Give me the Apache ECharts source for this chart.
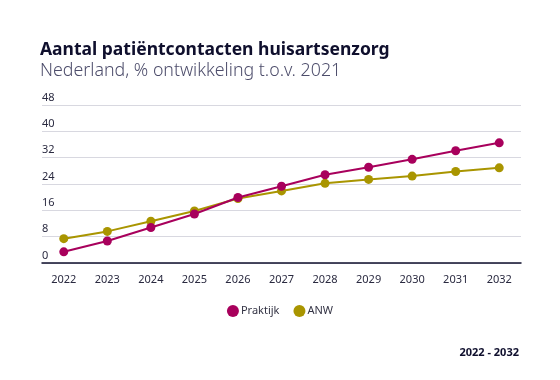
<!DOCTYPE html>
<html>
<head>
<meta charset="utf-8">
<script src="https://cdn.jsdelivr.net/npm/echarts@6/dist/echarts.min.js"></script>
<style>html,body{margin:0;padding:0;background:#fff;}#c{width:560px;height:380px;}</style>
</head>
<body>
<div id="c"></div>
<script>
const years = ['2022','2023','2024','2025','2026','2027','2028','2029','2030','2031','2032'];
const praktijk = [3.4, 6.7, 10.8, 14.9, 19.9, 23.3, 26.8, 29.1, 31.5, 34.1, 36.5];
const anw = [7.4, 9.6, 12.7, 15.8, 19.6, 21.9, 24.2, 25.4, 26.4, 27.8, 28.9];
const yTicks = { min: 0, max: 48, interval: 8 };

const font = '"Noto Sans", sans-serif';
const chart = echarts.init(document.getElementById('c'));
chart.setOption({
  backgroundColor: '#fff',
  textStyle: { fontFamily: font },
  title: [
    {
      text: 'Aantal patiëntcontacten huisartsenzorg',
      subtext: 'Nederland, % ontwikkeling t.o.v. 2021',
      left: 35, top: 36,
      itemGap: 3,
      textStyle: { fontFamily: font, fontSize: 17.5, fontWeight: 'bold', color: '#0f0f2d' },
      subtextStyle: { fontFamily: font, fontSize: 17.8, fontWeight: 300, color: '#4d4d6b' }
    },
    {
      text: '2022 - 2032',
      right: 36, top: 342,
      textStyle: { fontFamily: font, fontSize: 11, fontWeight: 'bold', color: '#0f0f2d' }
    }
  ],
  legend: {
    data: ['Praktijk', 'ANW'],
    top: 300, left: 'center',
    icon: 'circle', itemWidth: 12, itemHeight: 12, itemGap: 14,
    textStyle: { fontFamily: font, fontSize: 11, color: '#333344', padding: [0,0,0,-3] }
  },
  grid: { left: 42, right: 39, top: 105, bottom: 117 },
  xAxis: {
    type: 'category',
    data: years,
    boundaryGap: true,
    axisLine: { lineStyle: { color: '#0f0f2d', width: 1.5 } },
    axisTick: { show: false },
    axisLabel: { color: '#2a2a40', fontSize: 11, margin: 11, fontFamily: font }
  },
  yAxis: {
    type: 'value',
    min: yTicks.min, max: yTicks.max, interval: yTicks.interval,
    axisLine: { show: false },
    axisTick: { show: false },
    splitLine: { lineStyle: { color: '#d8d8e0', width: 1 } },
    axisLabel: {
      inside: true, verticalAlign: 'bottom', margin: 0,
      padding: [0, 0, 2, 0],
      color: '#2a2a40', fontSize: 11, fontFamily: font
    }
  },
  series: [
    {
      name: 'Praktijk', type: 'line', data: praktijk,
      symbol: 'circle', symbolSize: 9,
      itemStyle: { color: '#a8005c' },
      lineStyle: { color: '#a8005c', width: 2 },
      z: 3
    },
    {
      name: 'ANW', type: 'line', data: anw,
      symbol: 'circle', symbolSize: 9,
      itemStyle: { color: '#a99500' },
      lineStyle: { color: '#a99500', width: 2 },
      z: 2
    }
  ],
  animation: false
});
</script>
</body>
</html>
